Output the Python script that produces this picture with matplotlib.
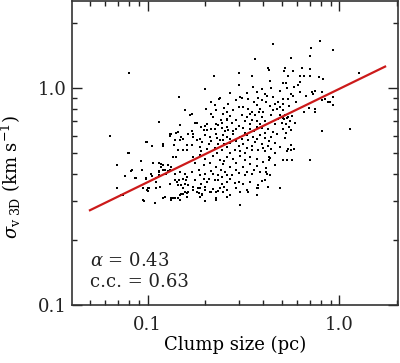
import numpy as np
from matplotlib import pyplot as plt
from matplotlib.ticker import FixedLocator, NullFormatter

# clump sizes (pc) and 3D velocity dispersions (km/s)
# sparse points at small size
sparse_pts = [(0.080, 1.17), (0.0636, 0.597), (0.0689, 0.441), (0.0757, 0.393), (0.0689, 0.346),
              (0.073, 0.32), (0.0785, 0.50), (0.0800, 0.50), (0.082, 0.416), (0.086, 0.385),
              (0.096, 0.30), (0.099, 0.561), (0.098, 0.382), (0.105, 0.54), (0.092, 0.46),
              (0.109, 0.295), (0.114, 0.695), (0.099, 0.337), (0.074, 0.32), (0.095, 0.303),
              (0.095, 0.346), (0.102, 0.346), (0.10, 0.335), (0.104, 0.403), (0.105, 0.393),
              (0.111, 0.383), (0.093, 0.42), (0.0826, 0.417), (0.087, 0.385), (0.098, 0.383),
              (0.107, 0.45), (0.098, 0.563)]

# upper part of the cloud
upper_pts = [(0.145, 0.91), (0.157, 0.79), (0.20, 0.99), (0.17, 0.755), (0.201, 0.80), (0.215, 0.86),
             (0.235, 0.89), (0.363, 1.36), (0.425, 1.24), (0.43, 1.21), (0.45, 1.59), (0.221, 1.14),
             (0.30, 1.17), (0.35, 1.14), (0.434, 1.07), (0.30, 1.03), (0.355, 1.01), (0.395, 0.99),
             (0.238, 0.90), (0.27, 0.95), (0.303, 0.91), (0.37, 0.955), (0.409, 0.94), (0.45, 0.905),
             (0.224, 0.83), (0.262, 0.845), (0.29, 0.875), (0.31, 0.895), (0.335, 0.89), (0.375, 0.895),
             (0.395, 0.875), (0.415, 0.86), (0.46, 0.845), (0.48, 0.86), (0.213, 0.76), (0.248, 0.76),
             (0.28, 0.79), (0.315, 0.815), (0.335, 0.795), (0.35, 0.775), (0.37, 0.83), (0.385, 0.80),
             (0.40, 0.775), (0.434, 0.825), (0.45, 0.79), (0.228, 0.79),
             (0.792, 1.64), (0.71, 1.52), (0.92, 1.50), (0.70, 1.40), (0.556, 1.37), (0.52, 1.24),
             (0.515, 1.20), (0.57, 1.20), (0.64, 1.24), (0.70, 1.22), (1.26, 1.17), (0.54, 1.14),
             (0.622, 1.13), (0.65, 1.14), (0.785, 1.12), (0.82, 1.10), (0.505, 1.05), (0.525, 1.05),
             (0.622, 1.06), (0.58, 1.01), (0.61, 1.03), (0.53, 0.995), (0.715, 0.96), (0.746, 0.97),
             (0.49, 0.97), (0.56, 0.94), (0.57, 0.922), (0.67, 0.922), (0.73, 0.94), (0.81, 0.955),
             (0.925, 0.905), (0.51, 0.89), (0.54, 0.885), (0.81, 0.875), (0.87, 0.86), (0.925, 0.83),
             (0.51, 0.845), (0.545, 0.825), (0.69, 0.81), (0.746, 0.80), (0.49, 0.815), (0.51, 0.79),
             (0.65, 0.77), (0.746, 0.77), (0.70, 1.13), (0.84, 0.885), (0.89, 0.86),
             (0.26, 0.77), (0.30, 0.82), (0.36, 0.86), (0.42, 0.92), (0.47, 0.80), (0.59, 0.86),
             (0.62, 0.96), (0.44, 1.00), (0.33, 0.95), (0.25, 0.81)]

# middle band
middle_pts = [(0.31, 0.747), (0.33, 0.733), (0.363, 0.747), (0.395, 0.733), (0.44, 0.747), (0.166, 0.747),
              (0.18, 0.69), (0.205, 0.68), (0.228, 0.68), (0.244, 0.69), (0.26, 0.708), (0.275, 0.69),
              (0.29, 0.708), (0.322, 0.70), (0.342, 0.68), (0.37, 0.70), (0.385, 0.68), (0.49, 0.747),
              (0.505, 0.73), (0.52, 0.747), (0.53, 0.725), (0.515, 0.72), (0.54, 0.733), (0.565, 0.74),
              (0.50, 0.69), (0.525, 0.68), (0.586, 0.69), (0.552, 0.70), (0.177, 0.69), (0.148, 0.675),
              (0.233, 0.675), (0.20, 0.67), (0.26, 0.72), (0.22, 0.733),
              (0.196, 0.637), (0.205, 0.637), (0.224, 0.645), (0.244, 0.653), (0.253, 0.63), (0.262, 0.637),
              (0.29, 0.648), (0.315, 0.653), (0.342, 0.645), (0.37, 0.66), (0.395, 0.653), (0.425, 0.648),
              (0.45, 0.628), (0.215, 0.648), (0.26, 0.66), (0.51, 0.645), (0.545, 0.66), (0.556, 0.637),
              (0.525, 0.62), (0.52, 0.587), (0.81, 0.63), (1.14, 0.648),
              (0.173, 0.614), (0.199, 0.604), (0.211, 0.595), (0.228, 0.614), (0.248, 0.604), (0.26, 0.595),
              (0.28, 0.61), (0.303, 0.595), (0.33, 0.604), (0.355, 0.595), (0.385, 0.604), (0.409, 0.585),
              (0.44, 0.595), (0.47, 0.61), (0.163, 0.614), (0.144, 0.628), (0.15, 0.595), (0.131, 0.60),
              (0.188, 0.58), (0.173, 0.595), (0.13, 0.61), (0.132, 0.614), (0.14, 0.62),
              (0.18, 0.573), (0.193, 0.563), (0.215, 0.567), (0.233, 0.553), (0.248, 0.573), (0.269, 0.56),
              (0.29, 0.567), (0.315, 0.553), (0.335, 0.573), (0.363, 0.563), (0.395, 0.553), (0.425, 0.54),
              (0.461, 0.56), (0.49, 0.535), (0.17, 0.543), (0.188, 0.535), (0.205, 0.525), (0.224, 0.53),
              (0.244, 0.515), (0.26, 0.535), (0.285, 0.52), (0.303, 0.51), (0.33, 0.53), (0.35, 0.515),
              (0.375, 0.52), (0.409, 0.51), (0.44, 0.525), (0.238, 0.573), (0.139, 0.573), (0.12, 0.553),
              (0.148, 0.573), (0.153, 0.58), (0.137, 0.547), (0.161, 0.547), (0.144, 0.52), (0.153, 0.52),
              (0.161, 0.52), (0.56, 0.547), (0.54, 0.525), (0.535, 0.51), (0.56, 0.52), (0.58, 0.525),
              (0.12, 0.54),
              (0.27, 0.74), (0.30, 0.67), (0.35, 0.71), (0.41, 0.70), (0.46, 0.68), (0.48, 0.72),
              (0.28, 0.63), (0.32, 0.62), (0.36, 0.63), (0.41, 0.62), (0.23, 0.59), (0.27, 0.58),
              (0.31, 0.58), (0.37, 0.58), (0.43, 0.57), (0.21, 0.55), (0.25, 0.55), (0.30, 0.54),
              (0.35, 0.54), (0.40, 0.53), (0.19, 0.51), (0.23, 0.50), (0.27, 0.50), (0.32, 0.50),
              (0.46, 0.50), (0.17, 0.63), (0.19, 0.66), (0.24, 0.71), (0.34, 0.76), (0.38, 0.77)]

# lower part of the cloud
lower_pts = [(0.173, 0.48), (0.188, 0.49), (0.20, 0.47), (0.22, 0.485), (0.238, 0.464), (0.26, 0.48),
             (0.28, 0.47), (0.303, 0.485), (0.322, 0.464), (0.342, 0.48), (0.37, 0.47), (0.40, 0.455),
             (0.434, 0.475), (0.135, 0.48), (0.14, 0.48), (0.505, 0.464), (0.53, 0.464), (0.565, 0.465),
             (0.70, 0.465), (0.43, 0.48), (0.43, 0.467),
             (0.177, 0.45), (0.196, 0.44), (0.211, 0.452), (0.228, 0.43), (0.248, 0.445), (0.269, 0.43),
             (0.29, 0.45), (0.315, 0.43), (0.342, 0.445), (0.37, 0.436), (0.415, 0.427), (0.461, 0.44),
             (0.115, 0.45), (0.118, 0.445), (0.12, 0.44), (0.117, 0.43), (0.128, 0.44), (0.133, 0.43),
             (0.131, 0.42), (0.12, 0.42), (0.115, 0.415), (0.125, 0.40), (0.128, 0.413), (0.123, 0.42),
             (0.17, 0.41), (0.185, 0.417), (0.199, 0.403), (0.215, 0.412), (0.233, 0.396), (0.253, 0.41),
             (0.275, 0.396), (0.298, 0.407), (0.322, 0.396), (0.35, 0.403), (0.385, 0.41), (0.434, 0.396),
             (0.415, 0.41), (0.42, 0.403), (0.157, 0.403), (0.114, 0.396), (0.116, 0.392), (0.114, 0.41),
             (0.139, 0.403), (0.148, 0.41), (0.16, 0.388), (0.188, 0.396), (0.22, 0.403), (0.244, 0.388),
             (0.26, 0.396),
             (0.177, 0.375), (0.196, 0.382), (0.205, 0.368), (0.224, 0.375), (0.244, 0.362), (0.26, 0.37),
             (0.285, 0.365), (0.315, 0.362), (0.342, 0.368), (0.375, 0.356), (0.409, 0.375), (0.144, 0.356),
             (0.150, 0.358), (0.158, 0.375), (0.153, 0.346), (0.163, 0.356), (0.146, 0.375), (0.111, 0.368),
             (0.131, 0.36), (0.139, 0.378), (0.142, 0.368), (0.153, 0.38), (0.157, 0.36), (0.233, 0.375),
             (0.395, 0.372), (0.111, 0.344), (0.116, 0.35),
             (0.173, 0.35), (0.188, 0.344), (0.20, 0.35), (0.22, 0.342), (0.238, 0.346), (0.26, 0.337),
             (0.29, 0.344), (0.33, 0.337), (0.37, 0.346), (0.425, 0.35), (0.49, 0.347), (0.10, 0.344),
             (0.375, 0.344), (0.173, 0.337), (0.182, 0.344), (0.20, 0.337), (0.16, 0.328), (0.163, 0.333),
             (0.18, 0.33), (0.193, 0.32), (0.211, 0.333), (0.228, 0.33), (0.248, 0.333), (0.269, 0.32),
             (0.303, 0.33), (0.335, 0.333), (0.37, 0.32), (0.188, 0.315), (0.233, 0.335), (0.303, 0.29),
             (0.26, 0.315), (0.12, 0.31), (0.135, 0.31), (0.20, 0.30), (0.228, 0.31), (0.123, 0.315),
             (0.133, 0.31), (0.139, 0.31), (0.144, 0.312), (0.150, 0.326), (0.148, 0.32), (0.157, 0.33),
             (0.16, 0.315), (0.133, 0.305), (0.148, 0.305), (0.153, 0.326), (0.186, 0.328), (0.193, 0.326),
             (0.215, 0.333), (0.228, 0.305),
             (0.25, 0.46), (0.29, 0.42), (0.33, 0.41), (0.36, 0.42), (0.24, 0.42), (0.21, 0.38),
             (0.27, 0.38), (0.30, 0.37), (0.19, 0.36), (0.25, 0.35)]

# power-law fit shown in the panel
alpha = 0.43
cc = 0.63
fit_amp = 0.99
fit_range = [0.05, 1.73]

pts = np.array(sparse_pts + upper_pts + middle_pts + lower_pts)
size_pc = pts[:, 0]
sigma_3d = pts[:, 1]

plt.rcParams['font.family'] = 'DejaVu Serif'
plt.rcParams['mathtext.fontset'] = 'dejavuserif'

fig = plt.figure(figsize=(4.0, 3.63), dpi=100)
ax = fig.add_axes([0.18, 0.16, 0.815, 0.838])

ax.scatter(size_pc, sigma_3d, s=3.0, marker='s', color='black', linewidths=0)

xfit = np.array(fit_range)
ax.plot(xfit, fit_amp * xfit**alpha, color='#cc1a1a', lw=1.6)

ax.set_xscale('log')
ax.set_yscale('log')
ax.set_xlim(0.0403, 2.02)
ax.set_ylim(0.1, 2.52)

ax.xaxis.set_major_locator(FixedLocator([0.1, 1.0]))
ax.yaxis.set_major_locator(FixedLocator([0.1, 1.0]))
ax.set_xticklabels(['0.1', '1.0'])
ax.set_yticklabels(['0.1', '1.0'])
minor = [0.05, 0.06, 0.07, 0.08, 0.09, 0.2, 0.3, 0.4, 0.5, 0.6, 0.7, 0.8, 0.9, 2.0]
ax.xaxis.set_minor_locator(FixedLocator(minor))
ax.yaxis.set_minor_locator(FixedLocator(minor))
ax.xaxis.set_minor_formatter(NullFormatter())
ax.yaxis.set_minor_formatter(NullFormatter())

ax.tick_params(which='both', direction='in', top=True, right=True, labelsize=13,
               colors='#222222', width=1.0)
ax.tick_params(axis='x', which='major', length=7, pad=8)
ax.tick_params(axis='y', which='major', length=7, pad=4)
ax.tick_params(which='minor', length=3.5)
for sp in ax.spines.values():
    sp.set_linewidth(1.2)
    sp.set_color('#333333')

ax.set_xlabel('Clump size (pc)', fontsize=13, labelpad=1)
ax.set_ylabel(r'$\sigma_{\rm v\ 3D}$ (km s$^{-1}$)', fontsize=13)
ax.yaxis.set_label_coords(-0.15, 0.42)

ax.text(0.055, 0.145, r'$\alpha$ = %.2f' % alpha, transform=ax.transAxes, fontsize=13,
        va='center', color='#222222')
ax.text(0.055, 0.075, 'c.c. = %.2f' % cc, transform=ax.transAxes, fontsize=13,
        va='center', color='#222222')

fig.savefig('out.png', dpi=100)
